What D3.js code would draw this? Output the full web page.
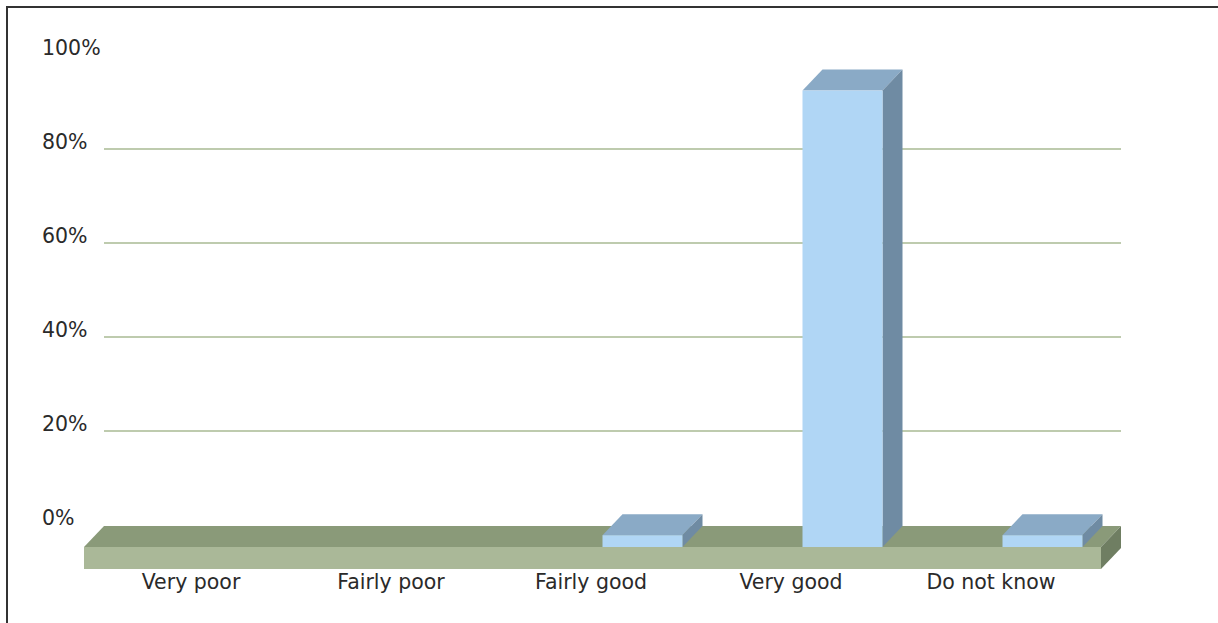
<!DOCTYPE html>
<html>
<head>
<meta charset="utf-8">
<script src="https://cdn.jsdelivr.net/npm/d3@7/dist/d3.min.js"></script>
<style>
  html, body { margin: 0; padding: 0; background: #fff; }
  svg { display: block; }
  text { font-family: Verdana, "DejaVu Sans", sans-serif; fill: #2a2a2a; }
</style>
</head>
<body>
<svg id="chart" width="1218" height="623"></svg>
<script>
// Survey answers and their share of respondents (%)
const categories = ["Very poor", "Fairly poor", "Fairly good", "Very good", "Do not know"];
const shares = [0, 0, 2.3, 96.9, 2.3];
const yTicks = [0, 20, 40, 60, 80, 100];
const gridTicks = [20, 40, 60, 80];
const tickLabels = ["0%", "20%", "40%", "60%", "80%", "100%"];

const W = 1218, H = 623;
const svg = d3.select("#chart");

// 3D depth offset between back wall and front plane
const depthX = 20, depthY = 21;

// back wall scales
const y = d3.scaleLinear().domain([0, 100]).range([525, 55]);
const wallLeft = 104, wallRight = 1121;

// category bands on the front plane
const x = d3.scaleBand().domain(categories).range([91, 1091]);
const barW = x.bandwidth() * 0.4;
const barShift = x.bandwidth() * 0.5575;

// gridlines on the back wall
svg.append("g").selectAll("line")
  .data(gridTicks)
  .join("line")
  .attr("x1", wallLeft).attr("x2", wallRight)
  .attr("y1", d => y(d)).attr("y2", d => y(d))
  .attr("stroke", "#a9ba93").attr("stroke-width", 1.5);

// y-axis labels
svg.append("g").selectAll("text")
  .data(yTicks)
  .join("text")
  .attr("x", 42)
  .attr("y", d => y(d))
  .attr("font-size", 20.5)
  .text((d, i) => tickLabels[i]);

// floor slab
const floorBackY = y(0) + 1;
const floorFrontY = floorBackY + depthY;
const floorThick = 22;
const fl = wallLeft - depthX, fr = wallRight - depthX;
const floor = svg.append("g");
floor.append("polygon")
  .attr("points", [[fl, floorFrontY], [wallLeft, floorBackY], [wallRight, floorBackY], [fr, floorFrontY]].join(" "))
  .attr("fill", "#8a9a79");
floor.append("rect")
  .attr("x", fl).attr("y", floorFrontY)
  .attr("width", fr - fl).attr("height", floorThick)
  .attr("fill", "#aab898");
floor.append("polygon")
  .attr("points", [[fr, floorFrontY], [wallRight, floorBackY], [wallRight, floorBackY + floorThick], [fr, floorFrontY + floorThick]].join(" "))
  .attr("fill", "#6f7e62");

// bars
const data = categories.map((c, i) => ({ cat: c, v: shares[i] })).filter(d => d.v > 0);
const bars = svg.append("g").selectAll("g")
  .data(data)
  .join("g");

bars.append("polygon") // top face
  .attr("points", d => {
    const bx = x(d.cat) + barShift, backTop = y(d.v), frontTop = backTop + depthY;
    return [[bx, frontTop], [bx + depthX, backTop], [bx + barW + depthX, backTop], [bx + barW, frontTop]].join(" ");
  })
  .attr("fill", "#8aaac6");
bars.append("polygon") // side face
  .attr("points", d => {
    const bx = x(d.cat) + barShift + barW, backTop = y(d.v), frontTop = backTop + depthY;
    return [[bx, frontTop], [bx + depthX, backTop], [bx + depthX, floorBackY], [bx, floorFrontY]].join(" ");
  })
  .attr("fill", "#6f8ba3");
bars.append("rect") // front face
  .attr("x", d => x(d.cat) + barShift)
  .attr("y", d => y(d.v) + depthY)
  .attr("width", barW)
  .attr("height", d => floorFrontY - (y(d.v) + depthY))
  .attr("fill", "#b0d6f5");

// category labels
svg.append("g").selectAll("text")
  .data(categories)
  .join("text")
  .attr("x", d => x(d) + x.bandwidth() / 2)
  .attr("y", 589)
  .attr("text-anchor", "middle")
  .attr("font-size", 20.5)
  .text(d => d);

// outer frame (open to the right and bottom)
svg.append("rect")
  .attr("x", 7).attr("y", 7)
  .attr("width", W + 10).attr("height", H + 10)
  .attr("fill", "none")
  .attr("stroke", "#333").attr("stroke-width", 2);
</script>
</body>
</html>
